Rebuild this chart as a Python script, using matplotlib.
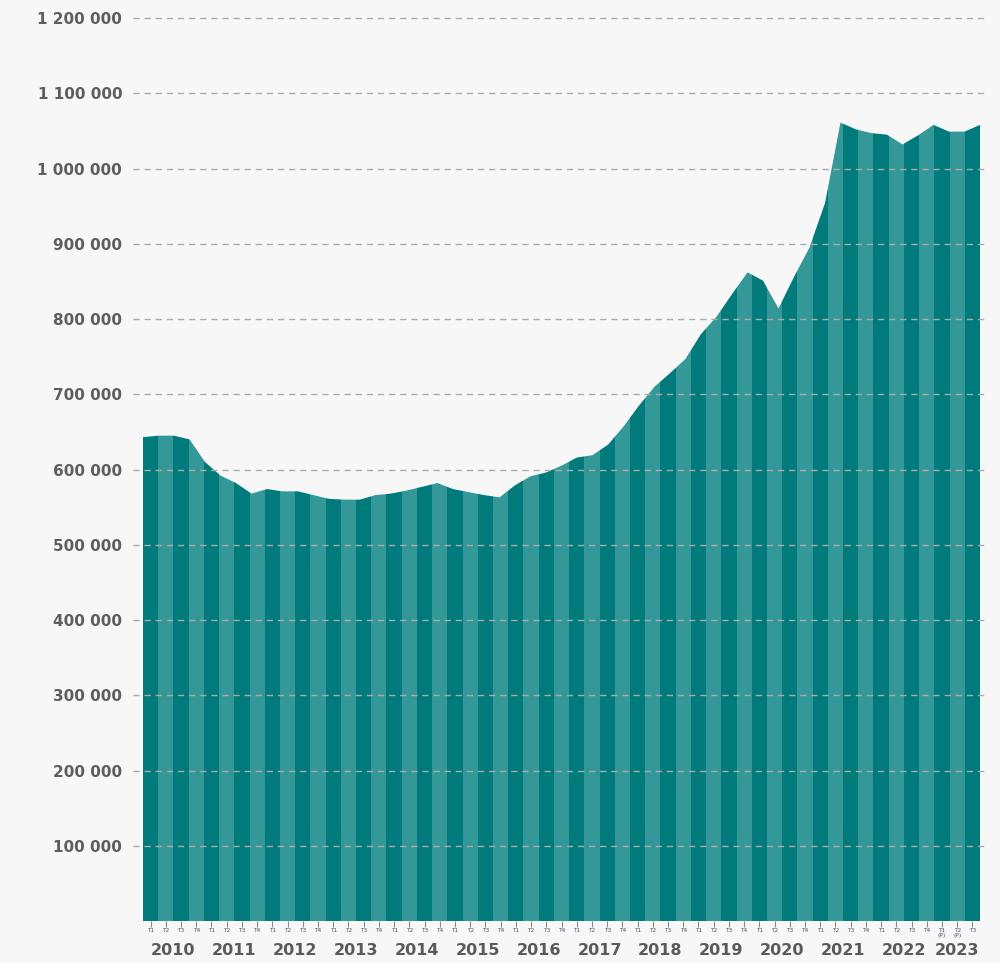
import numpy as np
import matplotlib.pyplot as plt
from matplotlib.transforms import blended_transform_factory

# trimestres 2010 T1 -> 2023 T3
years = list(range(2010, 2024))
quarter_labels = ["T1", "T2", "T3", "T4"] * 13 + ["T1\n(P)", "T2\n(P)", "T3"]
year_of_quarter = [y for y in range(2010, 2023) for _ in range(4)] + [2023] * 3
vals = [643000, 645000, 645000, 640000, 610000, 592000, 582000, 568000,
        574000, 571000, 571000, 566000, 561000, 560000, 560000, 566000,
        568000, 572000, 577000, 582000, 574000, 570000, 566000, 563000,
        579000, 591000, 596000, 605000, 616000, 619000, 633000, 657000,
        685000, 710000, 728000, 747000, 780000, 803000, 833000, 862000,
        851000, 814000, 856000, 895000, 954000, 1061000, 1052000, 1047000,
        1045000, 1032000, 1044000, 1058000, 1049000, 1049000, 1058000]
yticks = [100000 * k for k in range(1, 13)]

bg = '#f7f7f7'
dark = '#007a7a'
light = '#359898'

fig = plt.figure(figsize=(10, 9.63), dpi=100, facecolor=bg)
ax = fig.add_axes([0.143, 0.0436, 0.837, 0.9377])
ax.set_facecolor(bg)

x = np.arange(len(vals))
ax.set_xlim(-0.5, len(vals) - 0.5)
ax.set_ylim(0, 1200000)

# courbe sur un axe "points" (premier et dernier point aux bords)
ax2 = ax.twiny()
ax2.set_xlim(0, len(vals) - 1)
ax2.axis('off')
area = ax2.fill_between(x, vals, color='none', linewidth=0)
clip = area.get_paths()[0]

# bandes alternées découpées par la surface
colors = [dark if i % 2 == 0 else light for i in x]
bars = ax.bar(x, 1200000, width=1.0, color=colors, linewidth=0, zorder=1)
for b in bars:
    b.set_clip_path(clip, ax2.transData)

# grille pointillée par-dessus
ax.hlines(yticks, -1.15, len(vals) - 0.17, colors='#ababab',
          linestyles=(0, (4.5, 3.5)), linewidth=1.0, zorder=3, clip_on=False)

for s in ax.spines.values():
    s.set_visible(False)

ax.set_yticks(yticks, [f"{v:,}".replace(",", " ") for v in yticks])
ax.tick_params(axis='y', length=0, pad=15, labelsize=11, labelcolor='#5e5e5e')
for t in ax.get_yticklabels():
    t.set_fontweight('semibold')

ax.set_xticks(x, quarter_labels, fontsize=4.2, color='#5a4a6a',
              linespacing=0.9)
ax.tick_params(axis='x', length=4, width=0.8, color='#8a8a8a', pad=1)

trans = blended_transform_factory(ax.transData, ax.transAxes)
for y in years:
    idx = [i for i, yy in enumerate(year_of_quarter) if yy == y]
    ax.text(np.mean(idx), -0.033, str(y), transform=trans, ha='center',
            va='center', fontsize=11.5, fontweight='semibold', color='#5a5a5a')

plt.savefig('out.png', dpi=100, facecolor=bg)
